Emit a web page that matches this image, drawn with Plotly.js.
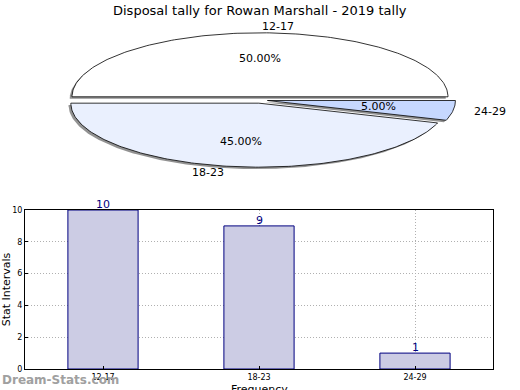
<!DOCTYPE html>
<html><head><meta charset="utf-8">
<script src="https://cdn.plot.ly/plotly-3.0.1.min.js"></script>
<style>html,body{margin:0;padding:0;background:#fff}</style>
</head><body><div id="chart" style="width:520px;height:390px"></div>
<script>
const categories = ['12-17', '18-23', '24-29'];
const counts = [10, 9, 1];
const sliceColors = ['#ffffff', '#eaf0fe', '#c6d8ff'];
const titleText = 'Disposal tally for Rowan Marshall - 2019 tally';

const FONT = 'DejaVu Sans, sans-serif';
const total = counts.reduce((a, b) => a + b, 0);
const explode = 0.05;
const traces = [];
const annotations = [];

// slice geometry derived from the data values
let start = 0;
const slices = counts.map((v, i) => {
  const frac = v / total;
  const a0 = start * 2 * Math.PI, a1 = (start + frac) * 2 * Math.PI;
  start += frac;
  const mid = (a0 + a1) / 2;
  return {i, frac, a0, a1, mid, dx: explode * 0.8 * Math.cos(mid), dy: explode * Math.sin(mid)};
});
function poly(s, ox, oy) {
  const xs = [s.dx + ox], ys = [s.dy + oy];
  const n = Math.max(4, Math.ceil((s.a1 - s.a0) / (Math.PI / 180)));
  for (let k = 0; k <= n; k++) {
    const a = s.a0 + (s.a1 - s.a0) * k / n;
    xs.push(s.dx + ox + Math.cos(a)); ys.push(s.dy + oy + Math.sin(a));
  }
  xs.push(s.dx + ox); ys.push(s.dy + oy);
  return {xs, ys};
}
// shadows
slices.forEach(s => {
  const p = poly(s, -0.012, -0.03);
  traces.push({type: 'scatter', mode: 'lines', x: p.xs, y: p.ys, xaxis: 'x2', yaxis: 'y2',
    fill: 'toself', fillcolor: 'rgba(110,110,110,0.75)', line: {width: 0, color: 'rgba(0,0,0,0)'},
    hoverinfo: 'skip', showlegend: false});
});
// slices
slices.forEach(s => {
  const p = poly(s, 0, 0);
  traces.push({type: 'scatter', mode: 'lines', x: p.xs, y: p.ys, xaxis: 'x2', yaxis: 'y2',
    fill: 'toself', fillcolor: sliceColors[s.i], line: {width: 0.8, color: '#000'},
    hoverinfo: 'skip', showlegend: false});
  const c = Math.cos(s.mid), sn = Math.sin(s.mid);
  annotations.push({xref: 'x2', yref: 'y2', x: s.dx + 1.1 * c, y: s.dy + 1.1 * sn,
    text: categories[s.i], showarrow: false, xanchor: c >= 0 ? 'left' : 'right', yanchor: 'middle',
    font: {family: FONT, size: 11, color: '#000'}});
  annotations.push({xref: 'x2', yref: 'y2', x: s.dx + 0.6 * c, y: s.dy + 0.6 * sn,
    text: (s.frac * 100).toFixed(2) + '%', showarrow: false, xanchor: 'center', yanchor: 'middle',
    font: {family: FONT, size: 11, color: '#000'}});
});

// bar chart
traces.push({type: 'bar', x: categories, y: counts, xaxis: 'x', yaxis: 'y', width: 0.45,
  marker: {color: '#ccccE4', line: {color: '#000080', width: 1}},
  hoverinfo: 'skip', showlegend: false});
categories.forEach((c, i) => {
  annotations.push({xref: 'x', yref: 'y', x: c, y: counts[i], text: String(counts[i]),
    showarrow: false, xanchor: 'center', yanchor: 'bottom', yshift: -3,
    font: {family: FONT, size: 11, color: '#000080'}});
});

annotations.push({xref: 'paper', yref: 'paper', x: 0.5, y: 1 - 10 / 390, text: titleText,
  showarrow: false, xanchor: 'center', yanchor: 'middle', font: {family: FONT, size: 13, color: '#000'}});
annotations.push({xref: 'paper', yref: 'paper', x: 0, y: 1 - 380 / 390, text: '<b>Dream-Stats.com</b>',
  showarrow: false, xanchor: 'left', yanchor: 'middle', font: {family: FONT, size: 12, color: '#a0a0a0'}});
annotations.push({xref: 'paper', yref: 'paper', x: 259 / 520, y: 1 - 381 / 390, text: 'Frequency',
  showarrow: false, xanchor: 'center', yanchor: 'top', font: {family: FONT, size: 11, color: '#000'}});

const layout = {
  width: 520, height: 390, margin: {l: 0, r: 0, t: 0, b: 0},
  paper_bgcolor: '#fff', plot_bgcolor: 'rgba(0,0,0,0)', showlegend: false,
  xaxis2: {domain: [0, 1], range: [-260 / 188, 260 / 188], visible: false, fixedrange: true, anchor: 'y2'},
  yaxis2: {domain: [1 - 190 / 390, 1], range: [(100 - 190) / 64, 100 / 64], visible: false, fixedrange: true, anchor: 'x2'},
  xaxis: {domain: [25 / 520, 493 / 520], anchor: 'y', range: [-0.5, 2.5], type: 'category',
    showline: true, linecolor: '#000', linewidth: 1, mirror: true,
    ticks: 'inside', ticklen: 3, tickcolor: '#000',
    showgrid: true, gridcolor: '#b0b0b0', griddash: '1px,2px', gridwidth: 1,
    tickfont: {family: FONT, size: 8, color: '#000'}},
  yaxis: {domain: [21 / 390, 180 / 390], anchor: 'x', range: [0, 10], dtick: 2,
    showline: true, linecolor: '#000', linewidth: 1, mirror: true,
    ticks: 'inside', ticklen: 3, tickcolor: '#000', zeroline: false,
    showgrid: true, gridcolor: '#b0b0b0', griddash: '1px,2px', gridwidth: 1,
    tickfont: {family: FONT, size: 8, color: '#000'},
    title: {text: 'Stat Intervals', font: {family: FONT, size: 11, color: '#000'}, standoff: 4}},
  annotations: annotations
};
Plotly.newPlot('chart', traces, layout, {staticPlot: true, displayModeBar: false});
</script></body></html>
